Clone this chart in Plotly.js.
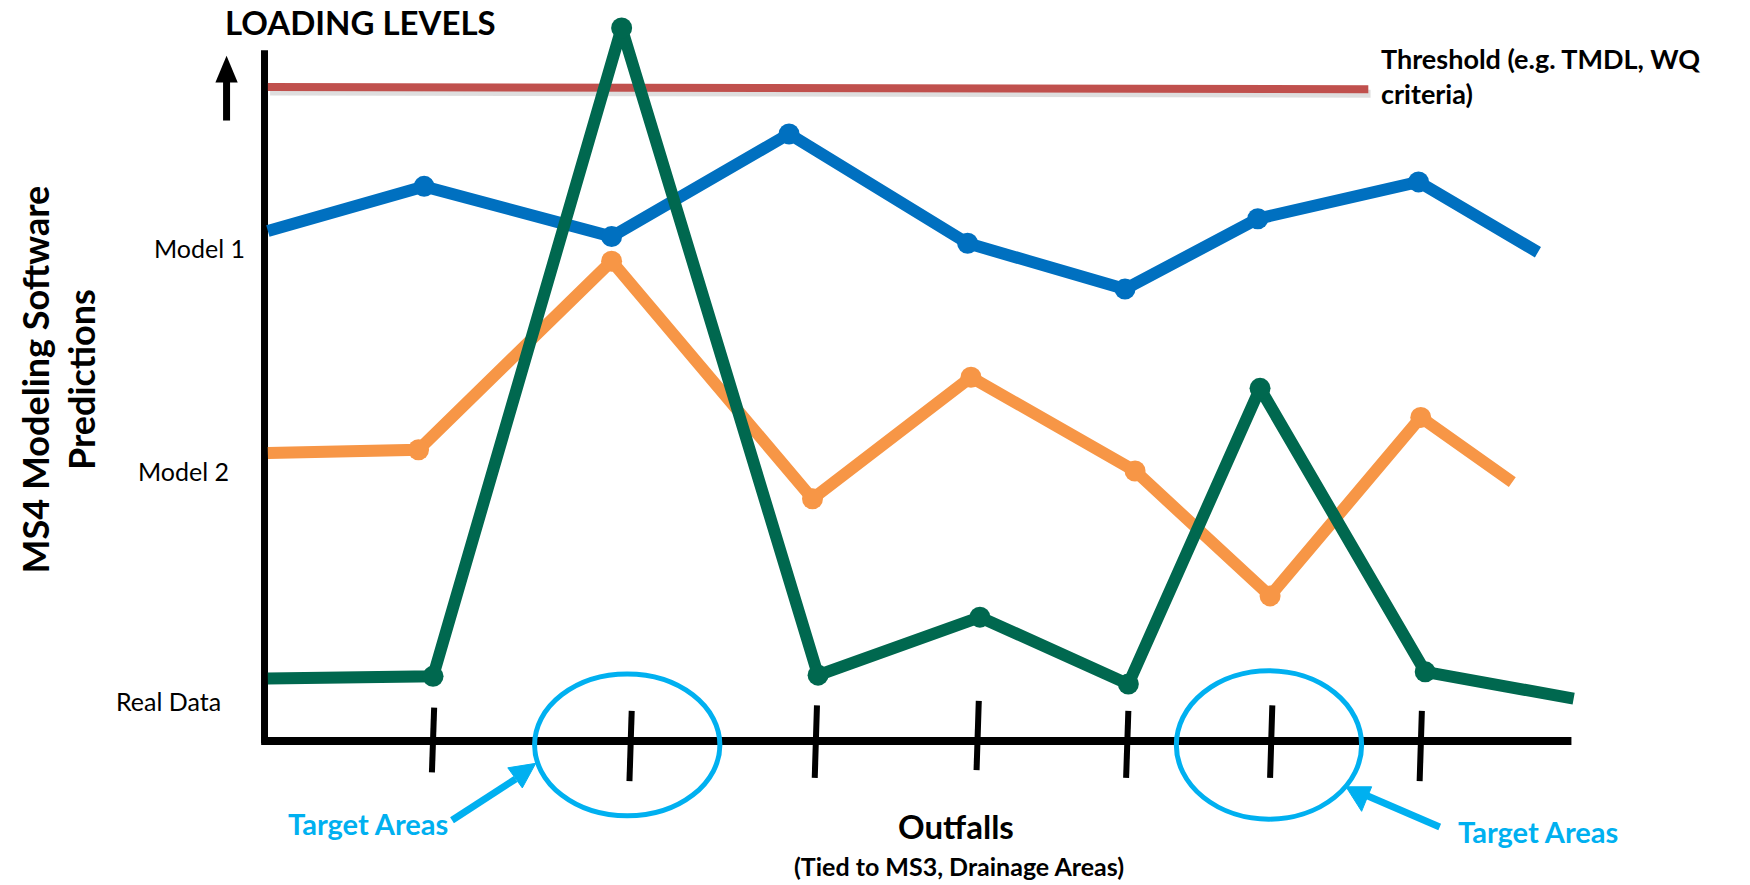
<!DOCTYPE html>
<html><head><meta charset="utf-8">
<script src="https://cdn.plot.ly/plotly-3.0.1.min.js"></script>
<style>html,body{margin:0;padding:0;background:#fff}#chart{width:1750px;height:885px}</style>
</head><body><div id="chart"></div>
<script>
// Outfall positions (horizontal, diagram units) and loading levels (diagram units, larger = lower on page)
const model1X = [240, 380, 548, 707, 867, 1008, 1127, 1271, 1378];
const model1Y = [207, 167, 212, 120, 218, 259, 196, 163, 226];
const model2X = [240, 375, 548, 728, 870, 1017, 1138, 1273, 1355];
const model2Y = [406, 403, 234, 447, 338, 422, 534, 374, 432];
const realX = [240, 388, 557, 733, 878, 1011, 1129, 1277, 1410];
const realY = [608, 606, 25, 605, 553, 613, 348, 602, 626];
const thresholdX = [240, 1226];
const thresholdY = [78, 80];
const tickX = [388, 565, 731, 876, 1010, 1139, 1273];
const yLabels = ["Model 1", "Model 2", "Real Data"];
const yLabelPos = [222, 422, 628];

const FONT = "Lato, 'Open Sans', sans-serif";
const blue = "#0070C0", orange = "#F79646", green = "#00684F", red = "#C0504D", cyan = "#00B0F0";

function series(x, y, color) {
  return [
    {x: x, y: y, mode: "lines", line: {color: color, width: 12}, hoverinfo: "skip"},
    {x: x.slice(1, -1), y: y.slice(1, -1), mode: "markers", marker: {color: color, size: 21}, hoverinfo: "skip"}
  ];
}

const traces = [
  {x: thresholdX.map(v => v + 2), y: thresholdY.map(v => v + 4), mode: "lines", line: {color: "rgba(0,0,0,0.13)", width: 8}, hoverinfo: "skip"},
  {x: thresholdX, y: thresholdY, mode: "lines", line: {color: red, width: 8}, hoverinfo: "skip"},
  ...series(model1X, model1Y, blue),
  ...series(model2X, model2Y, orange),
  ...series(realX, realY, green)
];

const shapes = [
  // axes
  {type: "line", x0: 237, x1: 237, y0: 45, y1: 666, line: {color: "#000", width: 7}, layer: "below"},
  {type: "line", x0: 234, x1: 1408, y0: 664, y1: 664, line: {color: "#000", width: 8}, layer: "below"},
  // up arrow
  {type: "line", x0: 203, x1: 203, y0: 108, y1: 70, line: {color: "#000", width: 7}},
  {type: "path", path: "M 193 74 L 213 74 L 203 50 Z", fillcolor: "#000", line: {width: 0}},
  // target circles
  {type: "circle", x0: 479, x1: 645, y0: 604, y1: 731, line: {color: cyan, width: 5}},
  {type: "circle", x0: 1054, x1: 1220, y0: 601, y1: 734, line: {color: cyan, width: 5}},
  // arrows to circles
  {type: "line", x0: 405, x1: 462, y0: 735, y1: 698, line: {color: cyan, width: 7}},
  {type: "path", path: "M 480 684 L 455 688 L 468 706 Z", fillcolor: cyan, line: {color: cyan, width: 1}},
  {type: "line", x0: 1290, x1: 1225, y0: 741, y1: 713, line: {color: cyan, width: 7}},
  {type: "path", path: "M 1206 705 L 1220 727 L 1229 705 Z", fillcolor: cyan, line: {color: cyan, width: 1}}
];
const tickTop = [634, 637, 632, 628, 637, 632, 637];
const tickBot = [692, 700, 697, 690, 697, 697, 700];
tickX.forEach((x, i) => {
  shapes.push({type: "line", x0: x + 1, x1: x - 1, y0: tickTop[i], y1: tickBot[i], line: {color: "#000", width: 6}});
});

const annotations = [
  {x: 200, y: 20, text: "<b>LOADING LEVELS</b>", xanchor: "left", yanchor: "middle", font: {size: 33, color: "#000", family: FONT}},
  {x: 1236, y: 68, text: "<b>Threshold (e.g. TMDL, WQ<br>criteria)</b>", xanchor: "left", yanchor: "middle", align: "left", font: {size: 27, color: "#000", family: FONT}},
  {x: 52, y: 340, text: "<b>MS4 Modeling Software<br>Predictions</b>", textangle: -90, xanchor: "center", yanchor: "middle", font: {size: 36, color: "#000", family: FONT}},
  {x: 857, y: 740, text: "<b>Outfalls</b>", xanchor: "center", yanchor: "middle", font: {size: 33, color: "#000", family: FONT}},
  {x: 859, y: 776, text: "<b>(Tied to MS3, Drainage Areas)</b>", xanchor: "center", yanchor: "middle", font: {size: 25, color: "#000", family: FONT}},
  {x: 330, y: 738, text: "<b>Target Areas</b>", xanchor: "center", yanchor: "middle", font: {size: 29, color: cyan, family: FONT}},
  {x: 1378, y: 745, text: "<b>Target Areas</b>", xanchor: "center", yanchor: "middle", font: {size: 29, color: cyan, family: FONT}}
];
const labelRight = [221, 207, 200];
yLabels.forEach((t, i) => {
  annotations.push({x: labelRight[i], y: yLabelPos[i], text: t, xanchor: "right", yanchor: "middle", font: {size: 25, color: "#000", family: FONT}});
});
annotations.forEach(a => { a.xref = "x"; a.yref = "y"; a.showarrow = false; });
shapes.forEach(s => { s.xref = "x"; s.yref = "y"; });

const layout = {
  width: 1750, height: 885,
  margin: {l: 0, r: 0, t: 0, b: 0},
  paper_bgcolor: "#fff", plot_bgcolor: "#fff",
  showlegend: false,
  xaxis: {range: [0, 1568], visible: false, fixedrange: true},
  yaxis: {range: [793, 0], visible: false, fixedrange: true},
  shapes: shapes,
  annotations: annotations
};
Plotly.newPlot("chart", traces, layout, {staticPlot: true, displayModeBar: false});
</script>
</body></html>
